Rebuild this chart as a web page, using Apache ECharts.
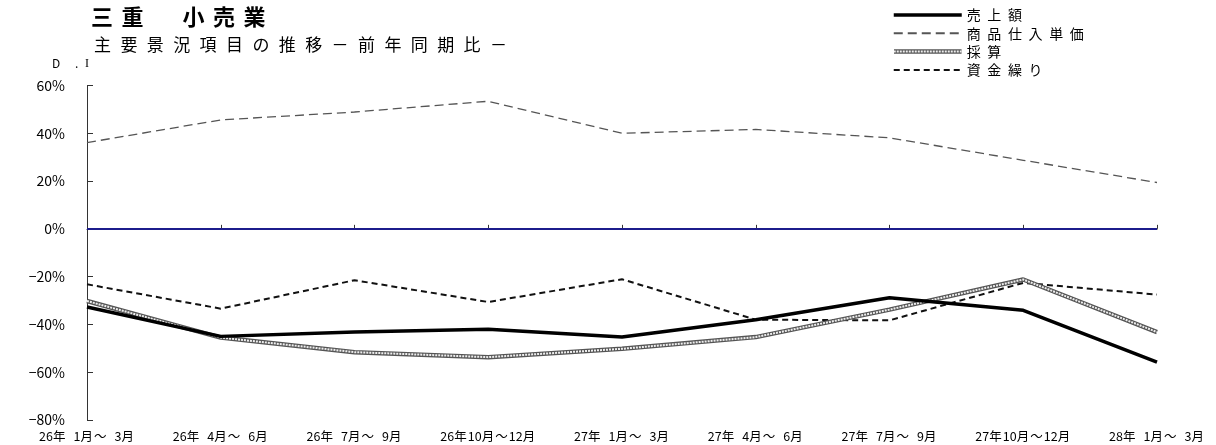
<!DOCTYPE html>
<html>
<head>
<meta charset="utf-8">
<script src="https://cdn.jsdelivr.net/npm/echarts@6/dist/echarts.min.js"></script>
<style>
  html, body { margin: 0; padding: 0; background: #fff; }
  #chart { width: 1216px; height: 445px; }
</style>
</head>
<body>
<div id="chart"></div>
<script>
// Quarter categories (x axis)
const categories = [
  '26年 1月～ 3月', '26年 4月～ 6月', '26年 7月～ 9月', '26年10月～12月',
  '27年 1月～ 3月', '27年 4月～ 6月', '27年 7月～ 9月', '27年10月～12月',
  '28年 1月～ 3月'
];

// D.I values (%), year-on-year
const salesDI         = [-32.7, -45.0, -43.2, -42.0, -45.3, -38.0, -28.8, -34.1, -55.8];
const purchasePriceDI = [36.1, 45.6, 48.9, 53.4, 40.0, 41.6, 38.1, 28.7, 19.4];
const profitDI        = [-30.2, -45.5, -51.6, -53.7, -50.2, -45.3, -33.8, -21.2, -43.2];
const cashFlowDI      = [-23.2, -33.4, -21.5, -30.6, -21.1, -38.0, -38.3, -22.6, -27.5];

const seriesNames = ['売上額', '商品仕入単価', '採算', '資金繰り'];

// y axis range and step
const yMin = -80;
const yMax = 60;
const yStep = 20;

const titleText = '三重　小売業';
const subtitleText = '主要景況項目の推移－前年同期比－';

const JP = '"Noto Sans CJK JP", "Noto Sans", sans-serif';

// Spread characters on a fixed pitch using rich-text tokens:
// full-width characters use the wide style, ASCII ones the narrow style.
function spaced(str, wideKey, narrowKey) {
  return Array.from(str).map(function (ch) {
    const key = ch.charCodeAt(0) < 0x2000 ? narrowKey : wideKey;
    return '{' + key + '|' + ch + '}';
  }).join('');
}

function textStyleOf(size, width, family, weight) {
  const s = { fontSize: size, lineHeight: size + 1, fontFamily: family || JP, fontWeight: weight || 'normal', color: '#000', align: 'left' };
  if (width) s.width = width;
  return s;
}

// Legend icon for the textured double line
const texturedIcon = 'image://data:image/svg+xml;charset=utf-8,' + encodeURIComponent(
  "<svg xmlns='http://www.w3.org/2000/svg' width='68' height='14'>" +
  "<line x1='0' y1='7' x2='68' y2='7' stroke='#555' stroke-width='4.5'/>" +
  "<line x1='0' y1='7' x2='68' y2='7' stroke='#eee' stroke-width='2' stroke-dasharray='2 1'/>" +
  "</svg>");

const chart = echarts.init(document.getElementById('chart'), null, { renderer: 'canvas' });

const option = {
  animation: false,
  backgroundColor: '#ffffff',
  title: [
    {
      text: spaced(titleText, 't', 't'),
      left: 91, top: 5, padding: 0,
      textStyle: { fontWeight: 'normal', rich: { t: textStyleOf(22, 30.5, JP, 'bold') } }
    },
    {
      text: spaced(subtitleText, 's', 's'),
      left: 94, top: 36, padding: 0,
      textStyle: { fontWeight: 'normal', rich: { s: textStyleOf(17, 26.4) } }
    },
    {
      text: '{a|D}{b|.}{c|I}',
      left: 52, top: 57, padding: 0,
      textStyle: {
        fontWeight: 'normal',
        rich: {
          a: textStyleOf(12, 23),
          b: textStyleOf(12, 10),
          c: textStyleOf(12, 0, 'serif')
        }
      }
    }
  ],
  legend: {
    orient: 'vertical',
    left: 892, top: 8, padding: 0,
    itemWidth: 68, itemHeight: 14, itemGap: 4.3,
    itemStyle: { opacity: 0 },
    data: [
      { name: seriesNames[0], lineStyle: { width: 3.5 } },
      { name: seriesNames[1] },
      { name: seriesNames[2], icon: texturedIcon, itemStyle: { opacity: 1 } },
      { name: seriesNames[3], lineStyle: { width: 2 } }
    ],
    formatter: function (name) { return spaced(name, 'w', 'w'); },
    textStyle: { rich: { w: textStyleOf(14, 20.6) } },
    selectedMode: false
  },
  grid: {
    left: 87, right: 59, top: 85.5, bottom: 25,
    containLabel: false,
    outerBoundsMode: 'none'
  },
  xAxis: {
    type: 'category',
    data: categories,
    boundaryGap: false,
    axisLine: { lineStyle: { color: '#333', width: 1 } },
    axisTick: { inside: true, length: 4, lineStyle: { color: '#333' } },
    axisLabel: {
      interval: 0,
      margin: 9,
      formatter: function (v) { return spaced(v, 'f', 'h'); },
      rich: {
        f: textStyleOf(12.5, 13.5),
        h: textStyleOf(12.5, 7)
      }
    },
    splitLine: { show: false }
  },
  yAxis: {
    type: 'value',
    min: yMin, max: yMax, interval: yStep,
    axisLine: { show: true, lineStyle: { color: '#333', width: 1 } },
    axisTick: { show: true, inside: true, length: 6, lineStyle: { color: '#333' } },
    axisLabel: {
      margin: 22,
      fontSize: 14,
      fontFamily: JP,
      color: '#000',
      formatter: function (v) { return (v < 0 ? '−' + (-v) : v) + '%'; }
    },
    splitLine: { show: false }
  },
  series: [
    {
      name: seriesNames[1],
      type: 'line',
      data: purchasePriceDI,
      symbol: 'none',
      lineStyle: { color: '#555', width: 1.3, type: [9, 5] },
      z: 2,
      markLine: {
        silent: true,
        symbol: 'none',
        label: { show: false },
        lineStyle: { color: '#1c1c8c', width: 2, type: 'solid' },
        data: [{ yAxis: 0 }]
      }
    },
    {
      name: seriesNames[3],
      type: 'line',
      data: cashFlowDI,
      symbol: 'none',
      lineStyle: { color: '#111', width: 2, type: [6, 4] },
      z: 3
    },
    {
      name: seriesNames[2],
      type: 'line',
      data: profitDI,
      symbol: 'none',
      lineStyle: { color: '#555', width: 4.5 },
      z: 4
    },
    {
      // light inner stroke giving the double-line texture
      name: seriesNames[2] + ' ',
      type: 'line',
      data: profitDI,
      symbol: 'none',
      lineStyle: { color: '#eee', width: 2, type: [2, 1] },
      z: 5
    },
    {
      name: seriesNames[0],
      type: 'line',
      data: salesDI,
      symbol: 'none',
      lineStyle: { color: '#000', width: 3.5 },
      z: 6
    }
  ]
};

chart.setOption(option);
</script>
</body>
</html>
